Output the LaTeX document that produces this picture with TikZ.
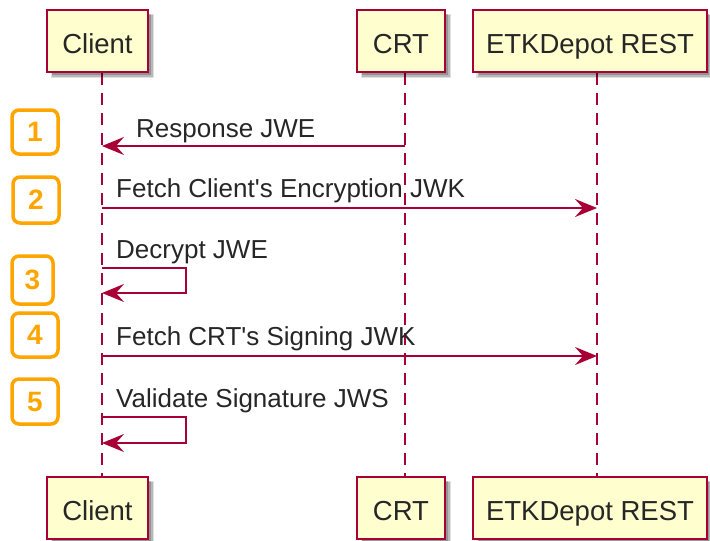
\documentclass[tikz,border=0pt]{standalone}
\usepackage{fontspec}
\setmainfont{Liberation Sans}[Ligatures=TeXOff]
\usetikzlibrary{arrows.meta,shadows}
\definecolor{umlred}{HTML}{A80036}
\definecolor{umlfill}{HTML}{FEFECE}
\definecolor{badge}{HTML}{FFA500}
\pgfdeclarelayer{background}
\pgfsetlayers{background,main}
\tikzset{
  actor/.style={draw=umlred, line width=2.5pt, fill=umlfill, inner sep=0pt,
    text=black!85, font=\fontsize{27.5}{30}\selectfont,
    text height=24pt, text depth=0pt,
    drop shadow={shadow xshift=5pt, shadow yshift=-5pt, shadow scale=1.02,
      fill=black, opacity=0.12},
    drop shadow={shadow xshift=4.5pt, shadow yshift=-4.5pt,
      fill=black, opacity=0.18},
    drop shadow={shadow xshift=4pt, shadow yshift=-4pt, shadow scale=0.985,
      fill=black, opacity=0.2}},
  lifeline/.style={draw=umlred, line width=2pt, dash pattern=on 12pt off 8pt},
  msg/.style={draw=umlred, line width=2pt, line join=miter,
    -{Stealth[length=22pt,width=18pt,inset=8pt]}},
  msgtext/.style={anchor=base west, inner sep=0pt, text=black!85,
    font=\fontsize{26}{28}\selectfont},
  num/.style={draw=badge, line width=3.5pt, rounded corners=7pt, fill=white,
    text=badge, inner sep=0pt, font=\bfseries\fontsize{28}{30}\selectfont},
}
\begin{document}
\begin{tikzpicture}[x=1pt, y=-1pt]
\useasboundingbox (0,0) rectangle (710,541);

% lifeline x positions
\coordinate (cx) at (102,0);
\coordinate (rx) at (405,0);
\coordinate (ex) at (597,0);

% participants, top and bottom
\path (97.5,41) node[actor, minimum width=101pt, minimum height=62pt] (ctop) {Client};
\path (401,41) node[actor, minimum width=88pt, minimum height=62pt] (rtop) {CRT};
\path (590,41) node[actor, minimum width=234pt, minimum height=62pt] (etop) {ETKDepot REST};
\path (97.5,508) node[actor, minimum width=101pt, minimum height=62pt] (cbot) {Client};
\path (401,508) node[actor, minimum width=88pt, minimum height=62pt] (rbot) {CRT};
\path (590,508) node[actor, minimum width=234pt, minimum height=62pt] (ebot) {ETKDepot REST};

% lifelines, behind the boxes
\begin{pgfonlayer}{background}
\draw[lifeline] (ctop.south -| cx) -- (cbot.north -| cx);
\draw[lifeline] (rtop.south -| rx) -- (rbot.north -| rx);
\draw[lifeline] (etop.south -| ex) -- (ebot.north -| ex);
\end{pgfonlayer}

% message end points on the lifelines
\coordinate (m1r) at (405,146);  \coordinate (m1c) at (102,146);
\coordinate (m2c) at (102,208);  \coordinate (m2e) at (597,208);
\coordinate (m3a) at (102,268);  \coordinate (m3b) at (186,268);
\coordinate (m3c) at (186,293);  \coordinate (m3d) at (102,293);
\coordinate (m4c) at (102,356);  \coordinate (m4e) at (597,356);
\coordinate (m5a) at (102,417);  \coordinate (m5b) at (186,417);
\coordinate (m5c) at (186,443);  \coordinate (m5d) at (102,443);

% messages
\draw[msg] (m1r) -- (m1c);
\draw[msg] (m2c) -- (m2e);
\draw[msg] (m3a) -- (m3b) -- (m3c) -- (m3d);
\draw[msg] (m4c) -- (m4e);
\draw[msg] (m5a) -- (m5b) -- (m5c) -- (m5d);

% message labels
\node[msgtext] (t1) at (136,137) {Response JWE};
\node[msgtext] (t2) at (116,197) {Fetch Client's Encryption JWK};
\node[msgtext] (t3) at (116,258) {Decrypt JWE};
\node[msgtext] (t4) at (116,345) {Fetch CRT's Signing JWK};
\node[msgtext] (t5) at (116,407) {Validate Signature JWS};

% step badges
\node[num, minimum width=46pt, minimum height=44pt] (n1) at (35,132) {1};
\node[num, minimum width=46pt, minimum height=46pt] (n2) at (36,200) {2};
\node[num, minimum width=41pt, minimum height=48pt] (n3) at (32.5,280) {3};
\node[num, minimum width=46pt, minimum height=44pt] (n4) at (35,335) {4};
\node[num, minimum width=46pt, minimum height=45pt] (n5) at (35,401.5) {5};
\end{tikzpicture}
\end{document}
